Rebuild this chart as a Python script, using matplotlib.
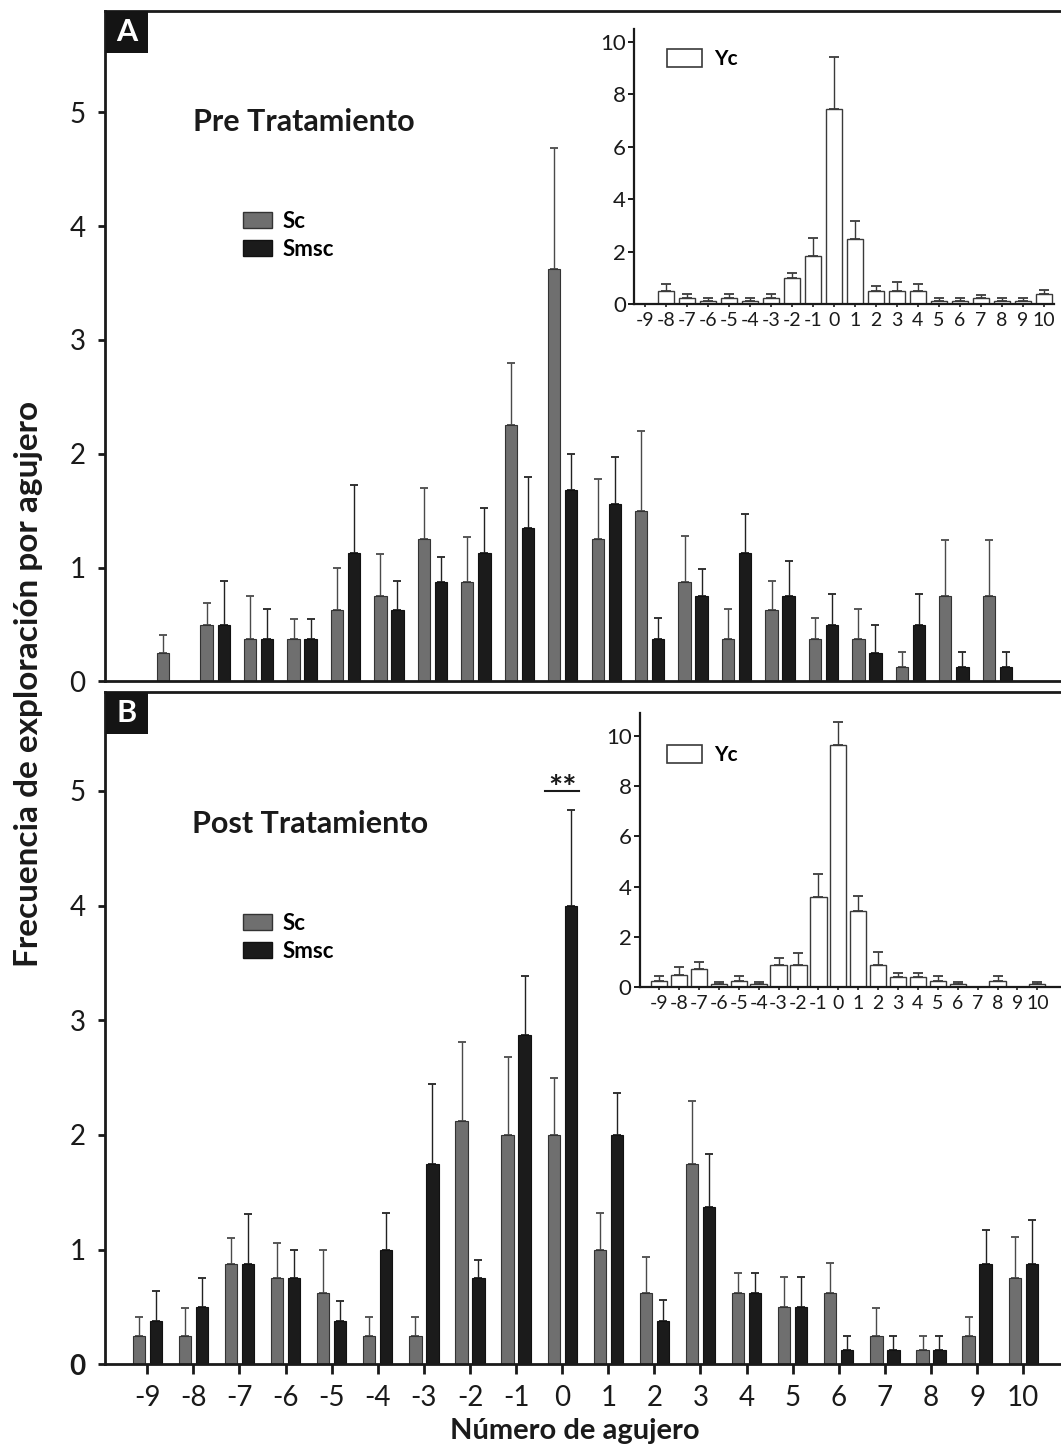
import numpy as np
import matplotlib
matplotlib.use("Agg")
import matplotlib.pyplot as plt
from matplotlib.patches import Patch, Rectangle

plt.rcParams['font.family'] = ['Lato', 'DejaVu Sans']

holes = list(range(-9, 11))
hole_labels = [str(h) for h in holes]

# Panel A (Pre Tratamiento)
a_sc = [0.25, 0.5, 0.375, 0.375, 0.625, 0.75, 1.25, 0.875, 2.25, 3.625,
        1.25, 1.5, 0.875, 0.375, 0.625, 0.375, 0.375, 0.125, 0.75, 0.75]
a_sc_err = [0.16, 0.19, 0.375, 0.175, 0.375, 0.37, 0.45, 0.395, 0.55, 1.065,
            0.53, 0.70, 0.405, 0.265, 0.255, 0.185, 0.265, 0.135, 0.49, 0.49]
a_smsc = [0, 0.5, 0.375, 0.375, 1.125, 0.625, 0.875, 1.125, 1.35, 1.68,
          1.555, 0.375, 0.75, 1.125, 0.75, 0.5, 0.25, 0.5, 0.125, 0.125]
a_smsc_err = [0, 0.38, 0.265, 0.175, 0.605, 0.26, 0.215, 0.395, 0.45, 0.32,
              0.415, 0.185, 0.24, 0.345, 0.31, 0.27, 0.25, 0.27, 0.135, 0.135]
a_yc = [0, 0.5, 0.25, 0.11, 0.25, 0.11, 0.25, 1.0, 1.85, 7.45,
        2.47, 0.5, 0.5, 0.5, 0.11, 0.11, 0.25, 0.11, 0.11, 0.39]
a_yc_err = [0, 0.27, 0.13, 0.12, 0.14, 0.12, 0.14, 0.18, 0.68, 1.95,
            0.69, 0.2, 0.36, 0.27, 0.12, 0.12, 0.12, 0.12, 0.12, 0.14]

# Panel B (Post Tratamiento)
b_sc = [0.25, 0.25, 0.875, 0.75, 0.625, 0.25, 0.25, 2.125, 2.0, 2.0,
        1.0, 0.625, 1.75, 0.625, 0.5, 0.625, 0.25, 0.125, 0.25, 0.75]
b_sc_err = [0.165, 0.24, 0.225, 0.31, 0.375, 0.165, 0.165, 0.685, 0.68, 0.5,
            0.32, 0.315, 0.55, 0.175, 0.26, 0.255, 0.24, 0.125, 0.16, 0.36]
b_smsc = [0.375, 0.5, 0.875, 0.75, 0.375, 1.0, 1.75, 0.75, 2.875, 4.0,
          2.0, 0.375, 1.375, 0.625, 0.5, 0.125, 0.125, 0.125, 0.875, 0.875]
b_smsc_err = [0.265, 0.255, 0.435, 0.25, 0.18, 0.32, 0.69, 0.16, 0.515, 0.83,
              0.37, 0.185, 0.455, 0.175, 0.26, 0.125, 0.125, 0.125, 0.295, 0.385]
b_yc = [0.25, 0.49, 0.74, 0.13, 0.25, 0.13, 0.89, 0.89, 3.6, 9.63,
        3.02, 0.89, 0.4, 0.4, 0.25, 0.13, 0, 0.25, 0, 0.13]
b_yc_err = [0.2, 0.3, 0.25, 0.1, 0.19, 0.1, 0.29, 0.46, 0.89, 0.9,
            0.6, 0.5, 0.18, 0.18, 0.19, 0.1, 0, 0.19, 0, 0.1]

main_yticks = [0, 1, 2, 3, 4, 5]
inset_yticks = [0, 2, 4, 6, 8, 10]

W, H = 1061, 1449
fig = plt.figure(figsize=(W / 100, H / 100), dpi=100)
fig.patch.set_facecolor('white')


def px_axes(l, t, r, b):
    return fig.add_axes([l / W, 1 - b / H, (r - l) / W, (b - t) / H])


GRAY = '#6f6f6f'
BLACK = '#1b1b1b'
x = np.array(holes, dtype=float)


def draw_main(ax, sc, sc_err, smsc, smsc_err, off, bw, xlim, ylim):
    ax.bar(x - off, sc, width=bw, color=GRAY, edgecolor='#333333', linewidth=0.8, zorder=2)
    ax.bar(x + off, smsc, width=bw, color=BLACK, edgecolor='#111111', linewidth=0.8, zorder=2)
    sc_a = np.array(sc); se = np.array(sc_err)
    sm_a = np.array(smsc); me = np.array(smsc_err)
    m1 = sc_a > 0
    m2 = sm_a > 0
    ax.errorbar(x[m1] - off, sc_a[m1], yerr=[np.zeros(m1.sum()), se[m1]], fmt='none',
                ecolor='#4a4a4a', elinewidth=1.0, capsize=2.9, capthick=1.3, zorder=1)
    ax.errorbar(x[m2] + off, sm_a[m2], yerr=[np.zeros(m2.sum()), me[m2]], fmt='none',
                ecolor='#222222', elinewidth=1.0, capsize=2.9, capthick=1.3, zorder=1)
    ax.set_xlim(*xlim)
    ax.set_ylim(*ylim)
    ax.spines['right'].set_visible(False)
    for s in ['left', 'bottom', 'top']:
        ax.spines[s].set_linewidth(2.0)
        ax.spines[s].set_color('#1a1a1a')
    ax.set_yticks(main_yticks)
    ax.set_yticklabels([str(v) for v in main_yticks])
    ax.tick_params(axis='y', direction='out', length=5, width=2, pad=9,
                   labelsize=20, colors='#1a1a1a')
    ax.patch.set_alpha(0)


def draw_inset(ax, yc, yc_err, bw, xlim, ylim):
    ax.bar(x, yc, width=bw, color='white', edgecolor='#3a3a3a', linewidth=1.0, zorder=2)
    ya = np.array(yc); ye = np.array(yc_err)
    m = ya > 0
    ax.errorbar(x[m], ya[m], yerr=[np.zeros(m.sum()), ye[m]], fmt='none',
                ecolor='#3a3a3a', elinewidth=1.0, capsize=3.4, capthick=1.3, zorder=1)
    ax.set_xlim(*xlim)
    ax.set_ylim(*ylim)
    for s in ['right', 'top']:
        ax.spines[s].set_visible(False)
    for s in ['left', 'bottom']:
        ax.spines[s].set_linewidth(1.6)
        ax.spines[s].set_color('#1a1a1a')
    ax.set_yticks(inset_yticks)
    ax.set_yticklabels([str(v) for v in inset_yticks])
    ax.set_xticks(holes)
    ax.set_xticklabels(hole_labels)
    ax.tick_params(axis='y', direction='out', length=4, width=1.4, pad=2,
                   labelsize=16, colors='#1a1a1a')
    ax.tick_params(axis='x', direction='out', length=2.5, width=1.2, pad=3,
                   labelsize=14, colors='#1a1a1a')
    ax.patch.set_facecolor('white')
    ax.legend(handles=[Patch(facecolor='white', edgecolor='#3a3a3a', linewidth=1.2, label='Yc')],
              loc='upper left', frameon=False, prop={'weight': 'bold', 'size': 15},
              handlelength=1.65, handleheight=0.95, handletextpad=0.6,
              borderpad=0, borderaxespad=0.0,
              bbox_to_anchor=(0, 0), bbox_transform=ax.transAxes)


def main_legend(ax, top_px):
    h = [Patch(facecolor=GRAY, edgecolor='#333333', linewidth=1.0, label='Sc'),
         Patch(facecolor=BLACK, edgecolor='#111111', linewidth=1.0, label='Smsc')]
    ax.legend(handles=h, loc='upper left', frameon=False,
              prop={'weight': 'bold', 'size': 16},
              handlelength=1.3, handleheight=0.7, handletextpad=0.5,
              labelspacing=0.3, borderpad=0, borderaxespad=0,
              bbox_to_anchor=(243 / W, 1 - top_px / H), bbox_transform=fig.transFigure)


# ---- Panel A ----
axA = px_axes(105, 11, 1061, 681.5)
draw_main(axA, a_sc, a_sc_err, a_smsc, a_smsc_err, off=0.196, bw=0.283,
          xlim=(-10.535, 11.466), ylim=(0, 5.89))
axA.set_xticks([])
main_legend(axA, 211)
fig.text(193 / W, 1 - 131 / H, 'Pre Tratamiento', fontsize=22, fontweight='bold',
         ha='left', va='baseline', color='#1a1a1a')

# ---- Panel B ----
axB = px_axes(105, 692.3, 1061, 1364.3)
draw_main(axB, b_sc, b_sc_err, b_smsc, b_smsc_err, off=0.184, bw=0.267,
          xlim=(-9.917, 10.82), ylim=(0, 5.86))
axB.set_xticks(holes)
axB.set_xticklabels(hole_labels)
axB.tick_params(axis='x', direction='out', length=7, width=2, pad=8,
                labelsize=20, colors='#1a1a1a')
axB.get_yticklabels()[0].set_fontweight('bold')
main_legend(axB, 913)
fig.text(192 / W, 1 - 833 / H, 'Post Tratamiento', fontsize=22, fontweight='bold',
         ha='left', va='baseline', color='#1a1a1a')
# significance marker over hole 0
axB.plot([-0.367, 0.371], [5.0, 5.0], color='#1a1a1a', linewidth=1.5, clip_on=False)
axB.text(0, 4.93, '**', fontsize=24, fontweight='bold', ha='center', va='baseline',
         color='#1a1a1a')

# ---- Insets ----
axIA = px_axes(634.3, 29, 1054.3, 304.3)
draw_inset(axIA, a_yc, a_yc_err, bw=0.76, xlim=(-9.53, 10.51), ylim=(0, 10.48))
axIA.get_legend().set_bbox_to_anchor((667.3 / W, 1 - 49 / H), transform=fig.transFigure)

axIB = px_axes(640, 712.7, 1061, 987.3)
draw_inset(axIB, b_yc, b_yc_err, bw=0.82, xlim=(-9.96, 11.19), ylim=(0, 10.91))
axIB.get_legend().set_bbox_to_anchor((667.3 / W, 1 - 745 / H), transform=fig.transFigure)

# ---- Panel letter boxes ----
for letter, top in [('A', 11), ('B', 692.3)]:
    fig.patches.append(Rectangle((106 / W, 1 - (top + 42) / H), 42 / W, 42 / H,
                                 transform=fig.transFigure, facecolor='#141414',
                                 edgecolor='none', zorder=5))
    fig.text(127 / W, 1 - (top + 21) / H, letter, fontsize=22, fontweight='bold',
             color='white', ha='center', va='center', zorder=6)

# ---- Axis labels ----
fig.text(29 / W, 1 - 684 / H, 'Frecuencia de exploración por agujero', rotation=90,
         fontsize=24, fontweight='bold', ha='center', va='center', color='#1a1a1a')
fig.text(575 / W, 1 - 1431 / H, 'Número de agujero', fontsize=21, fontweight='bold',
         ha='center', va='center', color='#1a1a1a')

fig.savefig('out.png', dpi=100, facecolor='white')
